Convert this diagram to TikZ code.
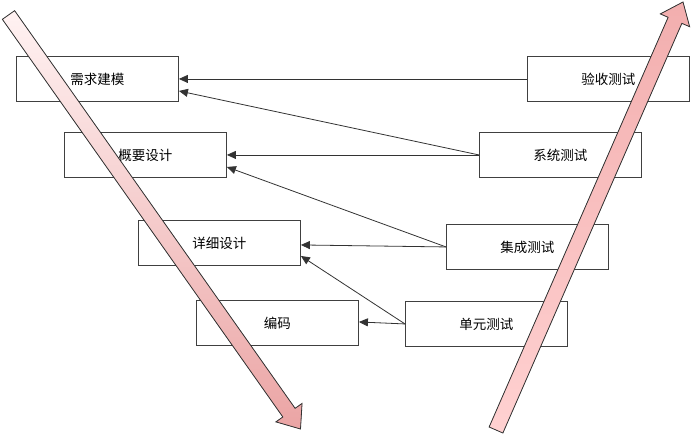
\documentclass[tikz,border=0pt]{standalone}
\usepackage{fontspec}
\newfontfamily\cjk{Noto Sans CJK SC}
\usetikzlibrary{calc,arrows.meta}
\begin{document}
\begin{tikzpicture}[x=1pt,y=-1pt,
  box/.style={draw=black!75,line width=0.9pt,minimum width=162pt,minimum height=45pt,inner sep=0pt,anchor=north west,fill=white},
  lbl/.style={font=\cjk\fontsize{13.5}{14}\selectfont,text=black},
  conn/.style={draw=black!80,line width=0.8pt,-{Triangle[length=9pt,width=8pt]}},
  bigoutline/.style={draw=black!80,line width=0.8pt}]
\useasboundingbox (0,0) rectangle (693,435);
% boxes
\node[box] (b1) at (16,56) {};
\node[box] (b2) at (64,132) {};
\node[box] (b3) at (138,220) {};
\node[box] (b4) at (196,300) {};
\node[box] (t1) at (527,56) {};
\node[box] (t2) at (479,132) {};
\node[box] (t3) at (446,224) {};
\node[box] (t4) at (405,301) {};
% connectors
\draw[conn] (t1.west) -- (b1.east);
\draw[conn] (t2.west) -- ($(b1.east)+(0,12)$);
\draw[conn] (t2.west) -- (b2.east);
\draw[conn] (t3.west) -- ($(b2.east)+(0,12)$);
\draw[conn] (t3.west) -- ($(b3.east)+(0,2)$);
\draw[conn] (t4.west) -- ($(b3.east)+(0,13)$);
\draw[conn] (t4.west) -- ($(b4.east)+(0,-1)$);
% big arrows
\coordinate (la) at (8.5,15);
\coordinate (lb) at (300.5,429);
\coordinate (lh) at ($(lb)!20pt!(la)$);
\fill[top color=white!95!red,bottom color=red!30!white!92!black]
  ($(la)!7.5pt!90:(lb)$) -- ($(lh)!7.5pt!-90:(la)$) -- ($(lh)!16pt!-90:(la)$) -- (lb)
  -- ($(lh)!16pt!90:(la)$) -- ($(lh)!7.5pt!90:(la)$) -- ($(la)!7.5pt!-90:(lb)$) -- cycle;
\draw[bigoutline]
  ($(la)!7.5pt!90:(lb)$) -- ($(lh)!7.5pt!-90:(la)$) -- ($(lh)!16pt!-90:(la)$) -- (lb)
  -- ($(lh)!16pt!90:(la)$) -- ($(lh)!7.5pt!90:(la)$) -- ($(la)!7.5pt!-90:(lb)$) -- cycle;
\coordinate (ra) at (496,430);
\coordinate (rb) at (683,2);
\coordinate (rh) at ($(rb)!20pt!(ra)$);
\fill[top color=red!28!white!95!black,bottom color=red!18!white]
  ($(ra)!7.5pt!90:(rb)$) -- ($(rh)!7.5pt!-90:(ra)$) -- ($(rh)!16pt!-90:(ra)$) -- (rb)
  -- ($(rh)!16pt!90:(ra)$) -- ($(rh)!7.5pt!90:(ra)$) -- ($(ra)!7.5pt!-90:(rb)$) -- cycle;
\draw[bigoutline]
  ($(ra)!7.5pt!90:(rb)$) -- ($(rh)!7.5pt!-90:(ra)$) -- ($(rh)!16pt!-90:(ra)$) -- (rb)
  -- ($(rh)!16pt!90:(ra)$) -- ($(rh)!7.5pt!90:(ra)$) -- ($(ra)!7.5pt!-90:(rb)$) -- cycle;
% labels
\node[lbl] at (b1.center) {需求建模};
\node[lbl] at (b2.center) {概要设计};
\node[lbl] at (b3.center) {详细设计};
\node[lbl] at (b4.center) {编码};
\node[lbl] at (t1.center) {验收测试};
\node[lbl] at (t2.center) {系统测试};
\node[lbl] at (t3.center) {集成测试};
\node[lbl] at (t4.center) {单元测试};
\end{tikzpicture}
\end{document}
